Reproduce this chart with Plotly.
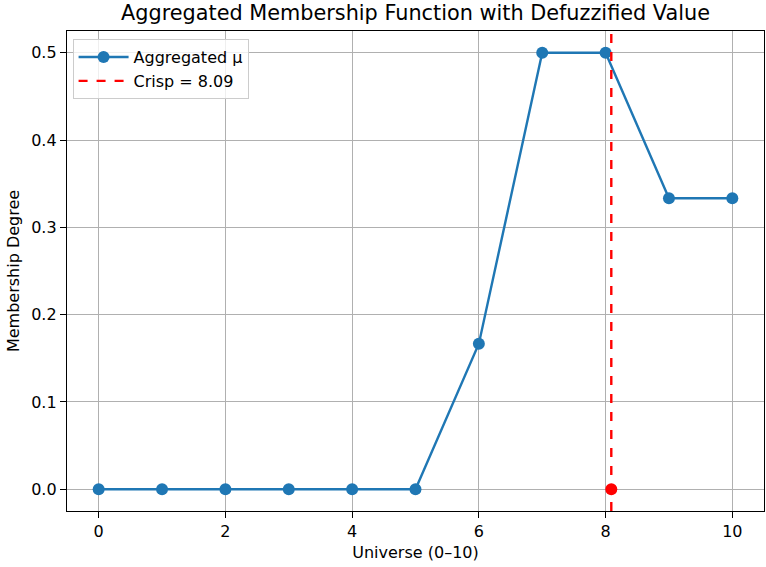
import plotly.graph_objects as go

x_vals = [0, 1, 2, 3, 4, 5, 6, 7, 8, 9, 10]
mu_vals = [0, 0, 0, 0, 0, 0, 0.1667, 0.5, 0.5, 0.3333, 0.3333]
crisp = 8.09
x_ticks = [0, 2, 4, 6, 8, 10]
y_ticks = [0.0, 0.1, 0.2, 0.3, 0.4, 0.5]

fig = go.Figure()
fig.add_trace(go.Scatter(x=x_vals, y=mu_vals, mode="lines+markers", name="Aggregated μ",
                         line=dict(color="#1f77b4", width=2.4),
                         marker=dict(color="#1f77b4", size=12)))
fig.add_trace(go.Scatter(x=[crisp, crisp], y=[-0.025, 0.525], mode="lines", name=f"Crisp = {crisp:.2f}",
                         line=dict(color="red", width=2.4, dash="dash")))
fig.add_trace(go.Scatter(x=[crisp], y=[0], mode="markers", showlegend=False,
                         marker=dict(color="red", size=12)))

axis_common = dict(showline=True, linecolor="black", linewidth=1.3, mirror=True,
                   showgrid=True, gridcolor="#b0b0b0", gridwidth=1.2,
                   ticks="outside", ticklen=6, tickcolor="black", zeroline=False,
                   tickfont=dict(size=16, color="black"))

fig.update_layout(
    width=766, height=567,
    margin=dict(l=67, r=2, t=31, b=56),
    paper_bgcolor="white", plot_bgcolor="white",
    font=dict(family="DejaVu Sans", color="black"),
    title=dict(text="Aggregated Membership Function with Defuzzified Value", x=0.5, xanchor="center",
               xref="paper", y=0.977, yanchor="middle", font=dict(size=20.8)),
    xaxis=dict(range=[-0.5, 10.5], tickvals=x_ticks, ticktext=[str(t) for t in x_ticks],
               title=dict(text="Universe (0–10)", font=dict(size=16), standoff=6), **axis_common),
    yaxis=dict(range=[-0.025, 0.525], tickvals=y_ticks, ticktext=[f"{t:.1f}" for t in y_ticks],
               title=dict(text="Membership Degree", font=dict(size=16), standoff=7), **axis_common),
    legend=dict(x=0.008, y=0.983, xanchor="left", yanchor="top", bgcolor="rgba(255,255,255,0.8)",
                bordercolor="#cccccc", borderwidth=1, font=dict(size=16), itemwidth=50),
)

fig.write_html("out.html", config={"displayModeBar": False},
               post_script="document.body.style.margin='0px';")
